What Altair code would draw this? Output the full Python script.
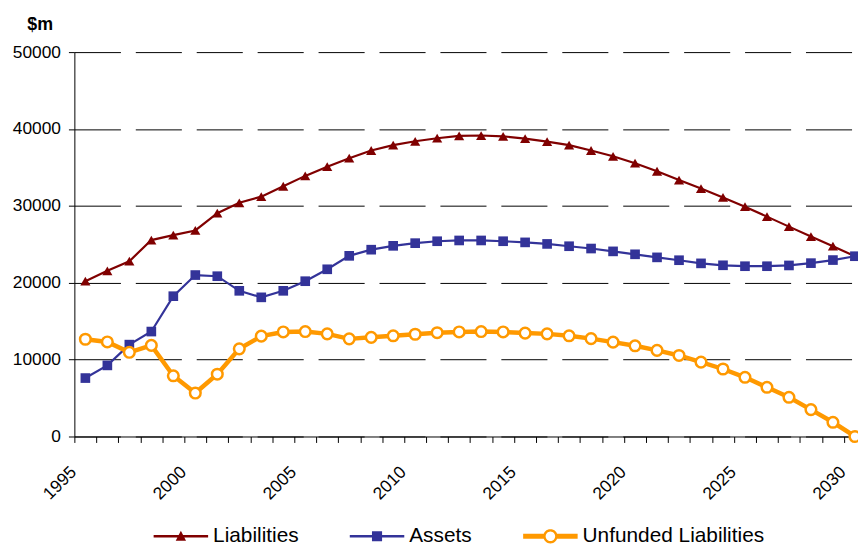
import math
import altair as alt
import pandas as pd

FONT = "Liberation Sans"

years = list(range(1995, 2031))
liabilities = [20200, 21550, 22800, 25550, 26200, 26800, 29050, 30400, 31200, 32550,
               33900, 35100, 36200, 37200, 37900, 38400, 38800, 39100, 39150, 39050,
               38750, 38350, 37900, 37200, 36450, 35550, 34500, 33350, 32250, 31100,
               29900, 28600, 27300, 26000, 24750, 23450]
assets = [7600, 9250, 11950, 13650, 18250, 21000, 20850, 18950, 18100, 18950,
          20200, 21750, 23500, 24300, 24800, 25150, 25400, 25500, 25500, 25400,
          25250, 25050, 24750, 24450, 24080, 23700, 23300, 22930, 22520, 22270,
          22150, 22150, 22250, 22550, 22950, 23450]
unfunded = [12650, 12300, 10950, 11850, 7900, 5650, 8100, 11400, 13050, 13600,
            13650, 13350, 12700, 12900, 13100, 13300, 13500, 13600, 13650, 13600,
            13450, 13350, 13100, 12730, 12270, 11800, 11200, 10540, 9680, 8780,
            7700, 6400, 5100, 3500, 1850, 0]

series_names = ["Liabilities", "Assets", "Unfunded Liabilities"]
series_colors = ["#800000", "#333399", "#FF9900"]
y_ticks = [0, 10000, 20000, 30000, 40000, 50000]

rows = []
for name, vals in zip(series_names, [liabilities, assets, unfunded]):
    for yr, v in zip(years, vals):
        rows.append({"year": yr, "value": v, "series": name})
df = pd.DataFrame(rows)

# ---- legend symbol paths (line + marker), unit box [-1, 1] ----
R = 27.5


def u(v):
    return round(v / R, 4)


def rect(x0, y0, x1, y1):
    return f"M{u(x0)},{u(y0)}H{u(x1)}V{u(y1)}H{u(x0)}Z"


def circle(r, cw=True, n=32):
    pts = []
    for i in range(n):
        a = 2 * math.pi * i / n
        if not cw:
            a = -a
        pts.append(f"{u(r * math.cos(a))},{u(r * math.sin(a))}")
    return "M" + "L".join(pts) + "Z"


path_liab = rect(-27.5, -1.25, 27.5, 1.25) + f"M{u(-5.2)},{u(4.4)}L0,{u(-5.6)}L{u(5.2)},{u(4.4)}Z"
path_assets = rect(-27.5, -1.25, 27.5, 1.25) + rect(-5.1, -5.1, 5.1, 5.1)
path_unf = (rect(-27.5, -2.5, -6.5, 2.5) + rect(6.5, -2.5, 27.5, 2.5)
            + circle(7.2, True) + circle(4.8, False))
legend_paths = [path_liab, path_assets, path_unf]

# tick marks sit between the yearly categories
x_tick_vals = [yr - 0.5 for yr in years]

x_enc = alt.X(
    "year:Q",
    scale=alt.Scale(domain=[1994.5, 2030.14], nice=False, zero=False),
    axis=alt.Axis(
        values=x_tick_vals,
        labelExpr="(datum.value + 0.5) % 5 == 0 ? '' + (datum.value + 0.5) : ''",
        labelAngle=315, labelAlign="right", labelBaseline="middle",
        labelOffset=-1, labelPadding=27,
        tickSize=6, tickColor="black", tickWidth=1,
        domainColor="black", domainWidth=1,
        grid=False, labelOverlap=False, labelFlush=False,
        labelFontSize=17.5, labelFont=FONT, labelColor="black",
        title=None,
    ),
)

y_enc = alt.Y(
    "value:Q",
    scale=alt.Scale(domain=[0, 50000], nice=False, zero=True),
    axis=alt.Axis(
        values=y_ticks, format="d",
        grid=True, gridDash=[46.5, 15], gridColor="black", gridWidth=1, gridOpacity=1,
        domainColor="black", domainWidth=1,
        tickColor="black", tickSize=6, tickWidth=1,
        labelFontSize=17.5, labelFont=FONT, labelColor="black", labelPadding=8,
        title="$m", titleAngle=0, titleAlign="left", titleBaseline="alphabetic",
        titleX=-48, titleY=-23, titleFontSize=18, titleFont=FONT,
        titleFontWeight="bold", titleColor="black",
    ),
)

base = alt.Chart(df).encode(x=x_enc, y=y_enc)

liab_line = base.transform_filter(alt.datum.series == "Liabilities").mark_line(
    color="#800000", strokeWidth=2.2)
liab_pts = base.transform_filter(alt.datum.series == "Liabilities").mark_point(
    shape="triangle-up", filled=True, color="#800000", size=105, opacity=1)
ast_line = base.transform_filter(alt.datum.series == "Assets").mark_line(
    color="#333399", strokeWidth=2.2)
ast_pts = base.transform_filter(alt.datum.series == "Assets").mark_point(
    shape="square", filled=True, color="#333399", size=95, opacity=1)
unf_line = base.transform_filter(alt.datum.series == "Unfunded Liabilities").mark_line(
    color="#FF9900", strokeWidth=4.5)
unf_pts = base.transform_filter(alt.datum.series == "Unfunded Liabilities").mark_point(
    shape="circle", fill="white", stroke="#FF9900", strokeWidth=2.5, size=115,
    opacity=1, fillOpacity=1)

leg = alt.Legend(
    title=None, orient="none", legendX=80, legendY=461, direction="horizontal",
    symbolSize=3025, symbolStrokeWidth=0, symbolOpacity=1,
    labelFontSize=21, labelFont=FONT, labelColor="black", labelOffset=5,
    labelLimit=0, columnPadding=51, padding=0,
)

legend_layer = alt.Chart(df).transform_filter(alt.datum.year == 1995).mark_point(
    filled=True, opacity=0, size=10).encode(
    x=x_enc, y=y_enc,
    color=alt.Color("series:N", scale=alt.Scale(domain=series_names, range=series_colors), legend=leg),
    shape=alt.Shape("series:N", scale=alt.Scale(domain=series_names, range=legend_paths), legend=leg),
)

chart = alt.layer(
    liab_line, liab_pts, ast_line, ast_pts, unf_line, unf_pts, legend_layer
).properties(
    width=791, height=388,
    padding={"left": 67, "top": 42, "right": 0, "bottom": 107},
    autosize=alt.AutoSizeParams(type="none"),
    background="white",
).configure_view(stroke=None)

chart.save("out.html", embed_options={"renderer": "svg", "actions": False})
